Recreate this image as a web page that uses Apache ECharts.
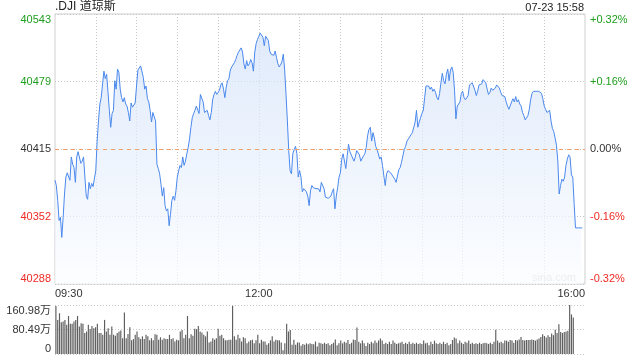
<!DOCTYPE html>
<html><head><meta charset="utf-8">
<script src="https://cdn.jsdelivr.net/npm/echarts@6/dist/echarts.min.js"></script>
<style>html,body{margin:0;padding:0;background:#fff}#c{width:640px;height:360px}</style>
</head><body><div id="c"></div>
<script>
const titleText = '.DJI 道琼斯';
const stampText = '07-23 15:58';
const watermark = 'sina.com';
const prevClose = 40415.5;
const priceMin = 40288, priceMax = 40543;
const priceTicks = ['40288', '40352', '40415', '40479', '40543'];
const pctTicks = ['-0.32%', '-0.16%', '0.00%', '+0.16%', '+0.32%'];
const timeLabels = ['09:30', '12:00', '16:00'];
const volMax = 160.98;
const volTicks = ['0', '80.49万', '160.98万'];

// one value per minute from 09:30
const prices = [
40386,40381,40367,40348,40351,40332,40351,40373,40389,40393,
40392,40386,40408,40401,40398,40384,40408,40413,40412,40402,
40404,40408,40389,40371,40368,40384,40378,40383,40380,40381,
40395,40423,40442,40458,40464,40477,40489,40482,40486,40469,
40452,40436,40449,40452,40480,40472,40491,40488,40472,40464,
40460,40464,40458,40456,40450,40442,40459,40455,40457,40459,
40475,40490,40492,40494,40493,40483,40472,40475,40463,40460,
40452,40441,40450,40449,40442,40401,40397,40392,40382,40371,
40379,40362,40357,40359,40343,40354,40367,40371,40367,40376,
40389,40395,40400,40398,40408,40400,40404,40411,40417,40425,
40436,40445,40449,40452,40456,40457,40449,40467,40467,40460,
40450,40449,40452,40447,40443,40450,40462,40467,40470,40467,
40469,40471,40476,40478,40472,40464,40474,40480,40482,40490,
40493,40494,40497,40500,40504,40507,40509,40511,40507,40496,
40491,40499,40494,40496,40500,40497,40489,40507,40515,40519,
40522,40525,40526,40521,40513,40522,40522,40518,40508,40505,
40505,40504,40508,40502,40496,40493,40495,40498,40505,40490,
40467,40442,40414,40395,40392,40411,40415,40418,40411,40389,
40395,40389,40375,40378,40379,40375,40371,40362,40376,40381,
40379,40378,40378,40378,40378,40375,40384,40385,40378,40370,
40371,40369,40368,40371,40375,40378,40359,40371,40379,40389,
40393,40406,40411,40412,40397,40409,40420,40413,40410,40407,
40404,40408,40414,40413,40410,40404,40405,40409,40411,40417,
40428,40434,40436,40423,40431,40426,40418,40415,40414,40406,
40408,40400,40390,40381,40392,40395,40394,40393,40391,40391,
40387,40384,40390,40396,40398,40403,40409,40415,40418,40423,
40425,40426,40429,40431,40432,40441,40452,40436,40441,40445,
40449,40452,40464,40475,40475,40475,40472,40474,40470,40472,
40469,40464,40462,40468,40478,40487,40480,40477,40486,40491,
40480,40490,40493,40488,40471,40444,40456,40457,40460,40468,
40470,40464,40462,40462,40466,40476,40477,40478,40478,40471,
40466,40470,40476,40476,40477,40481,40481,40478,40472,40467,
40469,40473,40471,40472,40473,40476,40476,40473,40469,40466,
40465,40465,40460,40456,40453,40453,40460,40463,40460,40465,
40460,40462,40458,40456,40450,40447,40443,40444,40447,40453,
40462,40468,40470,40469,40470,40469,40470,40469,40468,40463,
40456,40453,40450,40451,40452,40442,40435,40432,40426,40419,
40404,40373,40381,40387,40385,40389,40400,40406,40410,40408,
40391,40389,40364,40341,40341,40341,40341,40341,40341
];

// volume in 万
const volumes = [
158,112,134,104,107,112,96,125,99,99,
107,112,125,90,101,99,69,74,96,82,
92,85,88,99,69,69,63,112,74,
85,63,90,63,60,69,74,77,52,136,
52,66,88,45,49,63,74,55,49,58,
49,63,58,45,52,45,65,63,47,55,
47,52,49,49,63,49,52,41,47,45,
74,79,52,63,125,52,65,60,83,82,
92,74,71,63,58,74,38,41,52,47,
52,83,60,63,52,45,45,47,47,158,
58,47,63,52,41,55,52,35,41,45,
47,35,45,63,35,47,41,41,30,35,
45,58,41,47,45,45,38,12,35,99,
74,79,30,47,30,38,38,27,33,30,
35,32,35,33,32,41,25,
37,35,33,37,33,35,29,33,37,48,29,35,44,35,40,37,46,33,37,48,
46,87,40,35,44,35,26,37,33,40,35,44,37,44,51,44,33,37,33,40,
33,44,37,33,35,37,40,33,37,33,40,33,37,33,37,33,35,33,44,35,
37,29,40,33,44,35,33,37,33,40,33,37,29,33,46,54,51,35,44,37,
33,40,37,44,33,37,33,35,33,37,33,35,37,35,33,37,33,40,80,44,
37,40,35,44,44,40,46,44,37,46,44,48,56,46,44,46,46,46,48,46,
44,48,51,56,65,59,54,62,56,67,62,80,69,98,72,69,72,74,76,160.98,
130,120
];

const times = [];
for (let m = 0; m <= 390; m++) {
  const t = 9 * 60 + 30 + m;
  times.push(String(Math.floor(t / 60)).padStart(2, '0') + ':' + String(t % 60).padStart(2, '0'));
}
const volSlots = [];
for (let i = 0; i < volumes.length + 6; i++) volSlots.push(String(i));

const FONT = '"Liberation Sans", Arial, "Noto Sans CJK SC", sans-serif';
const GREEN = '#1f9e1f', RED = '#ee2a24', DARK = '#333333';
const tickColor = i => (i > 2 ? GREEN : i < 2 ? RED : DARK);
const dotted = { color: '#c8c8c8', width: 1, type: [1, 2] };

const chart = echarts.init(document.getElementById('c'), null, { renderer: 'canvas' });
chart.setOption({
  animation: false,
  textStyle: { fontFamily: FONT },
  grid: [
    { left: 55, right: 55, top: 14, height: 270, show: true, borderColor: '#cfcfcf', borderWidth: 1 },
    { left: 55, right: 55, top: 305, height: 49 }
  ],
  xAxis: [
    {
      type: 'category', gridIndex: 0, data: times, boundaryGap: false,
      axisLine: { show: false }, axisTick: { show: false },
      axisLabel: {
        interval: (i, v) => timeLabels.includes(v), color: DARK, fontSize: 11, margin: 4,
        fontFamily: FONT, alignMinLabel: 'left', alignMaxLabel: 'right'
      },
      splitLine: { show: true, interval: (i) => i % 30 === 0 && i > 0 && i < 390, lineStyle: dotted }
    },
    {
      type: 'category', gridIndex: 1, data: volSlots, boundaryGap: true,
      axisLine: { show: false }, axisTick: { show: false }, axisLabel: { show: false }, splitLine: { show: false }
    }
  ],
  yAxis: [
    {
      type: 'value', gridIndex: 0, min: 0, max: 4, interval: 1, position: 'left',
      axisLine: { show: false }, axisTick: { show: false },
      axisLabel: {
        formatter: v => priceTicks[v], color: (v) => tickColor(Number(v)), fontSize: 11, margin: 4,
        fontFamily: FONT, verticalAlignMinLabel: 'bottom', verticalAlignMaxLabel: 'top'
      },
      splitLine: { show: true, lineStyle: dotted }
    },
    {
      type: 'value', gridIndex: 0, min: 0, max: 4, interval: 1, position: 'right',
      axisLine: { show: false }, axisTick: { show: false },
      axisLabel: {
        formatter: v => pctTicks[v], color: (v) => tickColor(Number(v)), fontSize: 11, margin: 5,
        fontFamily: FONT, verticalAlignMinLabel: 'bottom', verticalAlignMaxLabel: 'top'
      },
      splitLine: { show: false }
    },
    { type: 'value', gridIndex: 0, min: priceMin, max: priceMax, show: false, splitLine: { show: false } },
    {
      type: 'value', gridIndex: 1, min: 0, max: volMax, interval: volMax / 2, position: 'left',
      axisLine: { show: false }, axisTick: { show: false },
      axisLabel: {
        formatter: (v, i) => volTicks[i], color: DARK, fontSize: 11, margin: 4,
        fontFamily: FONT, verticalAlignMinLabel: 'bottom', verticalAlignMaxLabel: 'top'
      },
      splitLine: { show: true, lineStyle: dotted }
    }
  ],
  series: [
    {
      type: 'line', xAxisIndex: 0, yAxisIndex: 2, data: prices, showSymbol: false, symbol: 'none',
      lineStyle: { color: '#4a88ec', width: 1 },
      areaStyle: {
        color: new echarts.graphic.LinearGradient(0, 0, 0, 1, [
          { offset: 0, color: '#d2e1f8' }, { offset: 1, color: '#fafcff' }
        ])
      },
      markLine: {
        silent: true, symbol: 'none', label: { show: false },
        lineStyle: { color: '#f2a06a', width: 1, type: [4, 4] },
        data: [{ yAxis: prevClose }]
      }
    },
    {
      type: 'bar', xAxisIndex: 1, yAxisIndex: 3, data: volumes, barWidth: '65%',
      itemStyle: { color: '#5f5f5f' }
    }
  ],
  graphic: [
    { type: 'text', left: 55, top: 1, style: { text: titleText, font: '12px ' + FONT, fill: '#222' } },
    { type: 'text', right: 56, top: 2, style: { text: stampText, font: '11px ' + FONT, fill: '#222' } },
    { type: 'text', left: 532, top: 272, style: { text: watermark, font: '11px ' + FONT, fill: '#cccccc' } }
  ]
});
</script></body></html>
